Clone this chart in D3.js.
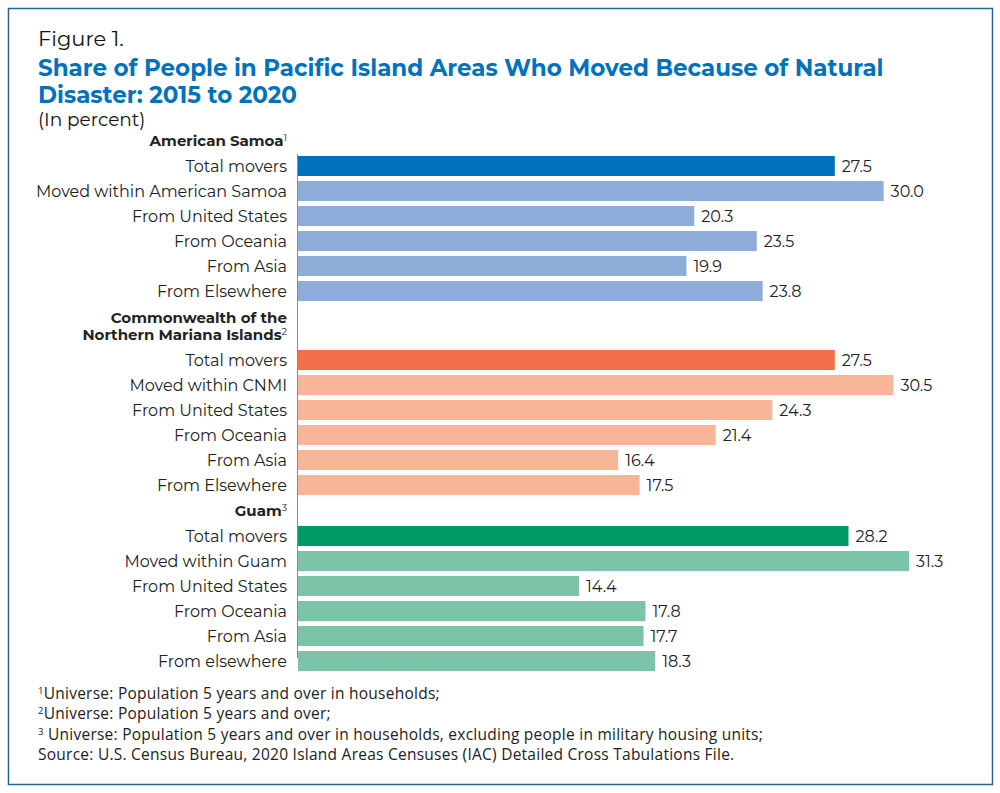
<!DOCTYPE html>
<html>
<head>
<meta charset="utf-8">
<script src="https://cdn.jsdelivr.net/npm/d3@7"></script>
<style>
  body { margin: 0; background: #fff; }
  svg { display: block; font-family: "Montserrat", "Lato", "Noto Sans", sans-serif; }
</style>
</head>
<body>
<svg id="chart" width="1000" height="793"></svg>
<script>
// group names (header lines) and superscripts
var groupNames = [
  ["American Samoa"],
  ["Commonwealth of the", "Northern Mariana Islands"],
  ["Guam"]
];
var groupNotes = ["1", "2", "3"];

var samoaLabels = ["Total movers", "Moved within American Samoa", "From United States", "From Oceania", "From Asia", "From Elsewhere"];
var samoaValues = [27.5, 30.0, 20.3, 23.5, 19.9, 23.8];

var cnmiLabels = ["Total movers", "Moved within CNMI", "From United States", "From Oceania", "From Asia", "From Elsewhere"];
var cnmiValues = [27.5, 30.5, 24.3, 21.4, 16.4, 17.5];

var guamLabels = ["Total movers", "Moved within Guam", "From United States", "From Oceania", "From Asia", "From elsewhere"];
var guamValues = [28.2, 31.3, 14.4, 17.8, 17.7, 18.3];

var darkColors = ["#0072bc", "#f3714a", "#009a66"];
var lightColors = ["#8eacda", "#f9b597", "#7bc4a7"];

var footnotes = [
  ["1", "Universe: Population 5 years and over in households;"],
  ["2", "Universe: Population 5 years and over;"],
  ["3", " Universe: Population 5 years and over in households, excluding people in military housing units;"],
  ["", "Source: U.S. Census Bureau, 2020 Island Areas Censuses (IAC) Detailed Cross Tabulations File."]
];

var groups = [
  {labels: samoaLabels, values: samoaValues},
  {labels: cnmiLabels, values: cnmiValues},
  {labels: guamLabels, values: guamValues}
];

var svg = d3.select("#chart");

// frame
svg.append("rect")
  .attr("x", 8.5).attr("y", 8.5)
  .attr("width", 984).attr("height", 776)
  .attr("fill", "none")
  .attr("stroke", "#2a5e9c")
  .attr("stroke-width", 1.5);

// titles
svg.append("text").attr("x", 38).attr("y", 46)
  .attr("font-size", 21).attr("fill", "#111")
  .text("Figure 1.");
var title = svg.append("text").attr("font-size", 23).attr("font-weight", "bold").attr("fill", "#0071bc");
title.append("tspan").attr("x", 38).attr("y", 76).text("Share of People in Pacific Island Areas Who Moved Because of Natural");
title.append("tspan").attr("x", 38).attr("y", 103).text("Disaster: 2015 to 2020");
svg.append("text").attr("x", 38).attr("y", 126)
  .attr("font-size", 18.5).attr("fill", "#111")
  .text("(In percent)");

var x0 = 298;
var x = d3.scaleLinear().domain([0, 31.3]).range([x0, 909]);
var labelX = 287;

// layout: first bar center per group
var firstCenter = [166, 360, 536];

var g = svg.append("g");

// axis line
g.append("line")
  .attr("x1", x0 - 0.5).attr("x2", x0 - 0.5)
  .attr("y1", 154).attr("y2", 658)
  .attr("stroke", "#8a8a8a").attr("stroke-width", 1);

groups.forEach(function(grp, gi){
  var y = d3.scaleBand()
    .domain(d3.range(grp.labels.length))
    .range([firstCenter[gi] - 12.5, firstCenter[gi] - 12.5 + 25 * grp.labels.length])
    .paddingInner(0.2).paddingOuter(0.1);

  // group header, one text per line
  var lines = groupNames[gi];
  lines.forEach(function(t, li){
    var ty = firstCenter[gi] - 25 - 17 * (lines.length - 1 - li) + 5;
    var hdr = g.append("text")
      .attr("x", labelX).attr("y", ty)
      .attr("text-anchor", "end")
      .attr("font-size", 15).attr("font-weight", "bold").attr("fill", "#222");
    hdr.append("tspan").text(t);
    if (li === lines.length - 1) {
      hdr.append("tspan").attr("font-size", 9.5).attr("dy", -5).attr("font-weight", "normal").text(groupNotes[gi]);
    }
  });

  var rows = g.append("g").selectAll("g")
    .data(grp.values)
    .join("g");

  rows.append("rect")
    .attr("x", x0)
    .attr("y", function(d, i){ return y(i); })
    .attr("height", y.bandwidth())
    .attr("width", function(d){ return x(d) - x0; })
    .attr("fill", function(d, i){ return i === 0 ? darkColors[gi] : lightColors[gi]; });

  rows.append("text")
    .attr("x", labelX)
    .attr("y", function(d, i){ return y(i) + y.bandwidth() / 2; })
    .attr("dy", "0.35em")
    .attr("text-anchor", "end")
    .attr("font-size", 16).attr("fill", "#222")
    .text(function(d, i){ return grp.labels[i]; });

  rows.append("text")
    .attr("x", function(d){ return x(d) + 7; })
    .attr("y", function(d, i){ return y(i) + y.bandwidth() / 2; })
    .attr("dy", "0.35em")
    .attr("font-size", 16).attr("fill", "#222")
    .text(function(d){ return d3.format(".1f")(d); });
});

// footnotes
var fn = svg.append("g").attr("font-family", "'Open Sans', 'Liberation Sans', sans-serif")
  .attr("font-size", 15.5).attr("letter-spacing", 0.25).attr("fill", "#222");
footnotes.forEach(function(f, i){
  var t = fn.append("text").attr("x", 38).attr("y", 699 + i * 20.3);
  if (f[0]) t.append("tspan").attr("font-size", 9.5).attr("dy", -5).text(f[0]);
  t.append("tspan").attr("dy", f[0] ? 5 : 0).text(f[1]);
});
</script>
</body>
</html>
